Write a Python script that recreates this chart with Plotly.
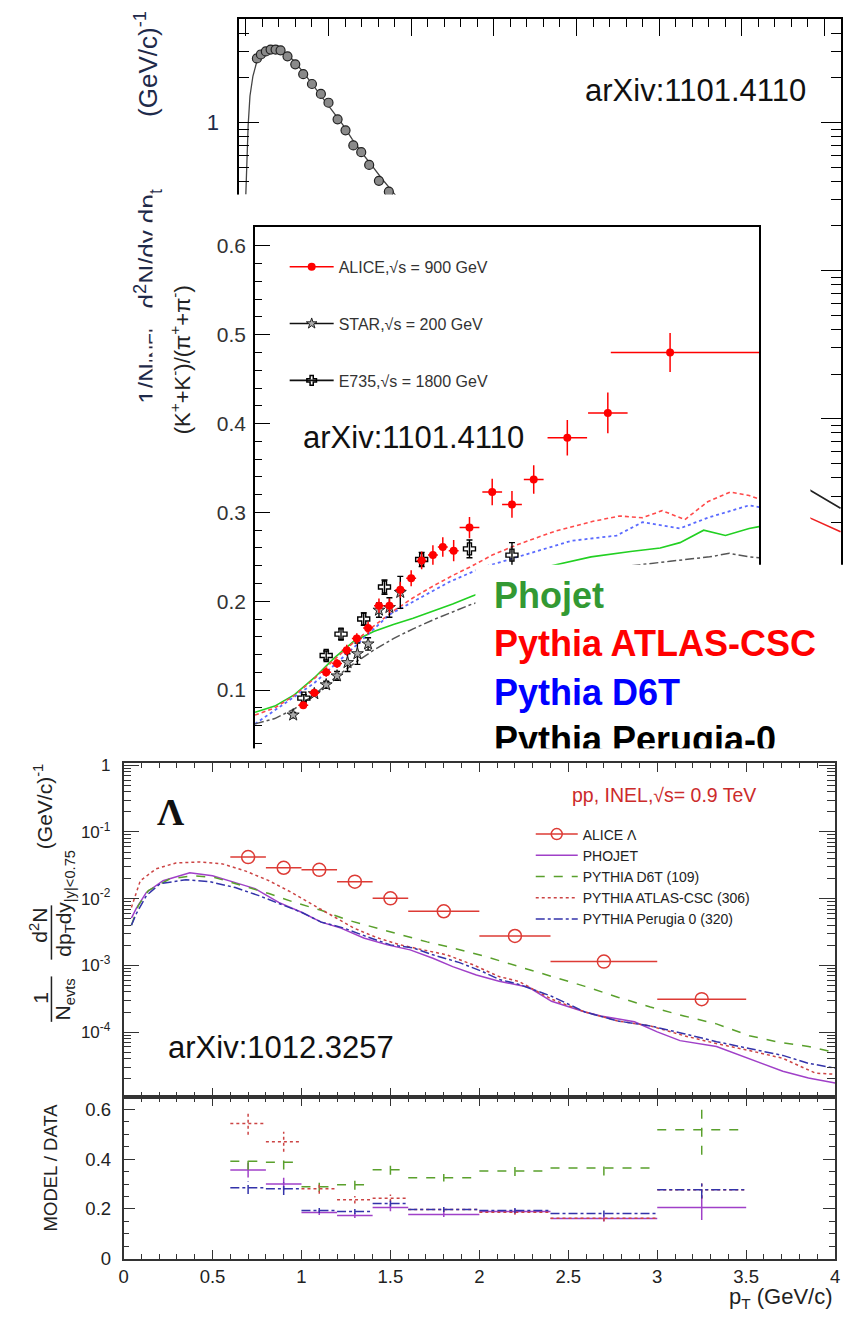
import plotly.graph_objects as go

W, H = 851, 1328
SANS = "Liberation Sans, Arial, Helvetica, sans-serif"
SERIF = "Liberation Serif, DejaVu Serif, serif"

# ---------------- Top (background) panel: spectrum, arXiv:1101.4110 ----------------
top_fit_pt = [0.0, 0.014, 0.025, 0.043, 0.067, 0.097, 0.139, 0.18, 0.228, 0.287, 0.347, 0.406,
              0.465, 0.525, 0.585, 0.644, 0.704, 0.764, 0.823, 0.883, 0.94]
top_fit_yield = [0.326, 0.955, 1.51, 2.06, 2.59, 2.93, 3.11, 3.16, 3.02, 2.63, 2.19, 1.79,
                 1.47, 1.18, 0.97, 0.77, 0.62, 0.51, 0.417, 0.347, 0.288]
top_data_pt = [0.067, 0.091, 0.121, 0.15, 0.18, 0.21, 0.252, 0.299, 0.347, 0.40, 0.454, 0.50,
               0.555, 0.603, 0.65, 0.698, 0.746, 0.805, 0.865]
top_data_yield = [2.71, 2.88, 3.02, 3.11, 3.11, 3.07, 2.80, 2.47, 2.12, 1.82, 1.56, 1.36,
                  1.05, 0.885, 0.70, 0.63, 0.517, 0.404, 0.341]
top_other_pt = [3.30, 3.418, 3.597]
top_other_black = [0.0040, 0.00326, 0.00248]
top_other_red = [0.0025, 0.00212, 0.00172]

# ---------------- Middle panel: (K+ + K-)/(pi+ + pi-) ----------------
alice_pt = [0.244, 0.30, 0.36, 0.415, 0.464, 0.515, 0.572, 0.627, 0.68, 0.735, 0.79, 0.843,
            0.90, 0.95, 1.005, 1.085, 1.20, 1.30, 1.41, 1.58, 1.785, 2.10]
alice_ratio = [0.083, 0.097, 0.12, 0.13, 0.145, 0.158, 0.170, 0.195, 0.195, 0.213, 0.226, 0.246,
               0.252, 0.261, 0.257, 0.283, 0.323, 0.309, 0.337, 0.384, 0.412, 0.48]
alice_err = [0.004, 0.004, 0.005, 0.005, 0.006, 0.006, 0.007, 0.008, 0.008, 0.009, 0.009, 0.010,
             0.011, 0.011, 0.012, 0.012, 0.015, 0.015, 0.016, 0.02, 0.023, 0.022]
alice_xlo = [0.025] * 15 + [0.05, 0.05, 0.05, 0.05, 0.1, 0.1, 0.3]
alice_xhi = [0.025] * 15 + [0.05, 0.05, 0.05, 0.05, 0.1, 0.1, 0.45]

star_pt = [0.193, 0.30, 0.36, 0.415, 0.468, 0.518, 0.572, 0.627, 0.68, 0.735]
star_ratio = [0.072, 0.096, 0.106, 0.116, 0.131, 0.141, 0.152, 0.19, 0.193, 0.21]
star_err = [0.003, 0.003, 0.004, 0.005, 0.01, 0.012, 0.007, 0.008, 0.011, 0.018]

e735_pt = [0.247, 0.36, 0.435, 0.55, 0.655, 0.843, 1.085, 1.30]
e735_ratio = [0.091, 0.139, 0.163, 0.18, 0.216, 0.247, 0.259, 0.252]
e735_err = [0.004, 0.005, 0.006, 0.007, 0.008, 0.008, 0.01, 0.014]

atlas_pt = [0.0, 0.1, 0.2, 0.3, 0.4, 0.5, 0.6, 0.7, 0.8, 0.9, 1.0, 1.1, 1.2, 1.33, 1.52, 1.71,
            1.845, 1.96, 2.06, 2.175, 2.29, 2.405, 2.5, 2.55]
atlas_ratio = [0.072, 0.080, 0.094, 0.113, 0.134, 0.154, 0.172, 0.189, 0.204, 0.217, 0.229, 0.24,
               0.252, 0.264, 0.279, 0.29, 0.296, 0.294, 0.302, 0.292, 0.312, 0.323, 0.319, 0.315]
d6t_pt = [0.0, 0.15, 0.3, 0.5, 0.68, 0.82, 0.985, 1.15, 1.33, 1.6, 1.83, 1.96, 2.15, 2.29, 2.5, 2.55]
d6t_ratio = [0.062, 0.085, 0.108, 0.148, 0.185, 0.202, 0.222, 0.238, 0.25, 0.268, 0.274, 0.289,
             0.282, 0.294, 0.308, 0.306]
phojet_k_pt = [0.0, 0.1, 0.2, 0.3, 0.4, 0.5, 0.6, 0.7, 0.8, 0.9, 1.0, 1.1, 1.2, 1.3, 1.4, 1.5,
               1.7, 1.9, 2.05, 2.15, 2.27, 2.38, 2.5, 2.55]
phojet_k_ratio = [0.075, 0.082, 0.095, 0.114, 0.136, 0.155, 0.166, 0.174, 0.181, 0.189, 0.197,
                  0.206, 0.214, 0.223, 0.232, 0.24, 0.25, 0.256, 0.26, 0.266, 0.28, 0.274, 0.282, 0.284]
perugia_k_pt = [0.0, 0.1, 0.2, 0.3, 0.4, 0.5, 0.6, 0.7, 0.8, 0.9, 1.0, 1.1, 1.3, 1.5, 1.7, 1.9,
                2.1, 2.3, 2.4, 2.5, 2.55]
perugia_k_ratio = [0.062, 0.068, 0.079, 0.095, 0.113, 0.13, 0.145, 0.158, 0.169, 0.179, 0.188,
                   0.197, 0.21, 0.222, 0.232, 0.24, 0.245, 0.25, 0.254, 0.25, 0.249]

model_labels = ["Phojet", "Pythia ATLAS-CSC", "Pythia D6T", "Pythia Perugia-0"]

# ---------------- Bottom panel: Lambda spectrum, arXiv:1012.3257 ----------------
lam_pt = [0.7, 0.9, 1.1, 1.3, 1.5, 1.8, 2.2, 2.7, 3.25]
lam_yield = [0.042, 0.029, 0.027, 0.018, 0.0101, 0.00647, 0.00276, 0.00114, 0.000312]
lam_halfbin = [0.1, 0.1, 0.1, 0.1, 0.1, 0.2, 0.2, 0.3, 0.25]

phojet_pt = [0.044, 0.072, 0.128, 0.222, 0.372, 0.50, 0.628, 0.739, 0.872, 1.0, 1.111, 1.222,
             1.35, 1.483, 1.611, 1.739, 1.85, 1.983, 2.111, 2.206, 2.278, 2.406, 2.594, 2.683,
             2.872, 3.0, 3.128, 3.333, 3.517, 3.706, 3.85, 4.0]
phojet_yield = [0.0051, 0.0072, 0.0124, 0.0186, 0.0244, 0.0220, 0.0174, 0.01416, 0.00879, 0.00625,
                0.00445, 0.00362, 0.00258, 0.00203, 0.00171, 0.00128, 0.00096, 0.00072, 0.00058,
                0.00052, 0.00047, 0.00029, 0.0002, 0.000175, 0.000143, 0.000101, 7.46e-5, 6.08e-5,
                4.05e-5, 2.6e-5, 2.05e-5, 1.73e-5]
d6t_l_pt = [0.044, 0.083, 0.139, 0.261, 0.389, 0.517, 0.667, 0.817, 0.961, 1.111, 1.261, 1.406,
            1.556, 1.706, 1.85, 2.039, 2.222, 2.406, 2.594, 2.778, 2.961, 3.15, 3.333, 3.517,
            3.667, 3.85, 4.0]
d6t_l_yield = [0.0040, 0.0079, 0.0132, 0.0199, 0.0220, 0.0206, 0.01567, 0.01194, 0.00879, 0.00669,
               0.00476, 0.00375, 0.00286, 0.00225, 0.00183, 0.00135, 0.00096, 0.00068, 0.000485,
               0.000334, 0.000238, 0.000175, 0.000133, 8.85e-5, 7.2e-5, 6.08e-5, 4.96e-5]
atlas_l_pt = [0.044, 0.094, 0.183, 0.294, 0.428, 0.556, 0.683, 0.817, 0.944, 1.072, 1.183, 1.294,
              1.428, 1.556, 1.683, 1.817, 1.961, 2.111, 2.222, 2.406, 2.594, 2.778, 2.961, 3.15,
              3.333, 3.517, 3.706, 3.889, 4.0]
atlas_l_yield = [0.0074, 0.0186, 0.028, 0.0343, 0.0355, 0.0332, 0.0261, 0.0186, 0.0124, 0.00793,
                 0.00527, 0.00362, 0.00258, 0.00203, 0.00171, 0.00144, 0.00103, 0.00068, 0.000575,
                 0.000312, 0.0002, 0.000147, 0.000124, 8.85e-5, 6.73e-5, 5.31e-5, 4.05e-5,
                 2.43e-5, 2.34e-5]
perugia_l_pt = [0.044, 0.072, 0.128, 0.206, 0.35, 0.483, 0.628, 0.761, 0.872, 1.0, 1.111, 1.239,
                1.372, 1.5, 1.628, 1.739, 1.889, 2.017, 2.111, 2.222, 2.406, 2.594, 2.778, 2.961,
                3.15, 3.333, 3.517, 3.706, 3.85, 4.0]
perugia_l_yield = [0.0040, 0.0060, 0.0111, 0.0168, 0.0192, 0.0180, 0.01465, 0.0111, 0.00849,
                   0.00625, 0.00445, 0.00362, 0.00267, 0.00203, 0.00183, 0.00144, 0.0011, 0.00081,
                   0.000617, 0.00052, 0.000345, 0.0002, 0.000147, 0.000124, 9.47e-5, 7.2e-5,
                   5.68e-5, 4.48e-5, 3.41e-5, 2.88e-5]

ratio_lo = [0.6, 0.8, 1.0, 1.2, 1.4, 1.6, 2.0, 2.4, 3.0]
ratio_hi = [0.8, 1.0, 1.2, 1.4, 1.6, 2.0, 2.4, 3.0, 3.5]
ratio_phojet = [0.356, 0.30, 0.186, 0.174, 0.206, 0.178, 0.19, 0.162, 0.206]
ratio_phojet_err = [0.03, 0.025, 0.01, 0.01, 0.015, 0.01, 0.01, 0.012, 0.05]
ratio_d6t = [0.392, 0.388, 0.289, 0.297, 0.357, 0.325, 0.352, 0.364, 0.518]
ratio_d6t_err = [0.035, 0.03, 0.02, 0.02, 0.02, 0.015, 0.02, 0.03, 0.1]
ratio_atlas = [0.543, 0.47, 0.281, 0.237, 0.243, 0.198, 0.187, 0.163, 0.277]
ratio_atlas_err = [0.045, 0.04, 0.02, 0.015, 0.015, 0.01, 0.01, 0.012, 0.035]
ratio_perugia = [0.285, 0.281, 0.194, 0.190, 0.222, 0.198, 0.194, 0.182, 0.277]
ratio_perugia_err = [0.025, 0.025, 0.01, 0.01, 0.012, 0.01, 0.01, 0.012, 0.035]


# ---------------- helpers (layout positions in pixels -> paper) ----------------
def dx(a, b):
    return [a / W, b / W]


def dy(top, bottom):
    return [1 - bottom / H, 1 - top / H]


def pxx(x):
    return x / W


def pyy(y):
    return 1 - y / H


def log_minor(lo, hi):
    return [m * 10 ** e for e in range(lo, hi) for m in range(2, 10)]


def steps(lo, hi, val, err):
    xs, ys = [], []
    for a, b, v, e in zip(lo, hi, val, err):
        c = 0.5 * (a + b)
        xs += [a, b, None, c, c, None]
        ys += [v, v, None, v - e, v + e, None]
    return xs, ys


fig = go.Figure()

# ---- top panel traces (subplot xy)
fig.add_trace(go.Scatter(x=top_fit_pt, y=top_fit_yield, mode="lines", xaxis="x", yaxis="y",
                         line=dict(color="#444", width=1.3), showlegend=False))
fig.add_trace(go.Scatter(x=top_data_pt, y=top_data_yield, mode="markers", xaxis="x", yaxis="y",
                         marker=dict(symbol="circle", size=9, color="#8a8a8a",
                                     line=dict(color="#222", width=1.2)), showlegend=False))
fig.add_trace(go.Scatter(x=top_other_pt, y=top_other_black, mode="lines", xaxis="x", yaxis="y",
                         line=dict(color="#222", width=1.6), showlegend=False))
fig.add_trace(go.Scatter(x=top_other_pt, y=top_other_red, mode="lines", xaxis="x", yaxis="y",
                         line=dict(color="#ee2020", width=1.6), showlegend=False))

# ---- white cover of the middle picture (subplot x2y2, nothing drawn in it)
fig.add_trace(go.Scatter(x=[None], y=[None], mode="lines", xaxis="x2", yaxis="y2",
                         showlegend=False, hoverinfo="skip"))

# ---- middle panel traces (subplot x3y3)
mid = dict(xaxis="x3", yaxis="y3", showlegend=False)
fig.add_trace(go.Scatter(x=phojet_k_pt, y=phojet_k_ratio, mode="lines",
                         line=dict(color="#22d022", width=1.6), **mid))
fig.add_trace(go.Scatter(x=atlas_pt, y=atlas_ratio, mode="lines",
                         line=dict(color="#ff4a4a", width=1.6, dash="4px,3px"), **mid))
fig.add_trace(go.Scatter(x=d6t_pt, y=d6t_ratio, mode="lines",
                         line=dict(color="#5a6aff", width=1.8, dash="dot"), **mid))
fig.add_trace(go.Scatter(x=perugia_k_pt, y=perugia_k_ratio, mode="lines",
                         line=dict(color="#555", width=1.5, dash="dashdot"), **mid))
fig.add_trace(go.Scatter(x=star_pt, y=star_ratio, mode="markers",
                         marker=dict(symbol="star", size=9, color="#aaa", line=dict(color="#222", width=1)),
                         error_y=dict(type="data", array=star_err, color="black", thickness=1.4, width=3),
                         **mid))
fig.add_trace(go.Scatter(x=e735_pt, y=e735_ratio, mode="markers",
                         marker=dict(symbol="cross-open", size=10, color="black", line=dict(width=1.4)),
                         error_y=dict(type="data", array=e735_err, color="black", thickness=1.4, width=3),
                         **mid))
fig.add_trace(go.Scatter(x=alice_pt, y=alice_ratio, mode="markers",
                         marker=dict(symbol="circle", size=8, color="#ff0000"),
                         error_y=dict(type="data", array=alice_err, color="#ff0000", thickness=1.5, width=0),
                         error_x=dict(type="data", array=alice_xhi, arrayminus=alice_xlo, color="#ff0000",
                                      thickness=1.5, width=0),
                         **mid))
# legend entries for the middle panel (ROOT style line + marker)
leg_mid = [("ALICE,√s = 900 GeV", "#ff0000", dict(symbol="circle", size=8, color="#ff0000")),
           ("STAR,√s = 200 GeV", "#111", dict(symbol="star", size=8, color="#aaa", line=dict(color="#222", width=1))),
           ("E735,√s = 1800 GeV", "#111", dict(symbol="cross-open", size=8, color="black", line=dict(width=1.5)))]
for i, (name, col, mk) in enumerate(leg_mid):
    fig.add_trace(go.Scatter(x=[None], y=[None], mode="lines+markers", name=name, xaxis="x3", yaxis="y3",
                             line=dict(color=col, width=1.6), marker=mk, legend="legend",
                             legendgroup="g%d" % i, showlegend=True))

# ---- text box (subplot x4y4)
label_x = [0.05, 0.05, 0.05, 0.05]
label_y = [0.813, 0.556, 0.294, 0.037]
fig.add_trace(go.Scatter(x=label_x, y=label_y, mode="text", text=model_labels,
                         textposition="middle right", xaxis="x4", yaxis="y4", showlegend=False,
                         textfont=dict(family=SANS, size=36, weight="bold",
                                       color=["#339933", "#ff0000", "#0000ff", "#000000"])))

# ---- white cover of the bottom picture (subplot x5y5, nothing drawn in it)
fig.add_trace(go.Scatter(x=[None], y=[None], mode="lines", xaxis="x5", yaxis="y5",
                         showlegend=False, hoverinfo="skip"))

# ---- bottom main panel (subplot x6y6)
bot = dict(xaxis="x6", yaxis="y6")
fig.add_trace(go.Scatter(x=[None], y=[None], mode="lines+markers", name="ALICE Λ", **bot,
                         line=dict(color="#dd3b35", width=1.5),
                         marker=dict(symbol="circle-open", size=11, color="#dd3b35", line=dict(width=1.5)),
                         legend="legend2"))
fig.add_trace(go.Scatter(x=phojet_pt, y=phojet_yield, mode="lines", name="PHOJET", **bot,
                         line=dict(color="#a040c8", width=1.5), legend="legend2"))
fig.add_trace(go.Scatter(x=d6t_l_pt, y=d6t_l_yield, mode="lines", name="PYTHIA D6T (109)", **bot,
                         line=dict(color="#5aa02c", width=1.5, dash="dash"), legend="legend2"))
fig.add_trace(go.Scatter(x=atlas_l_pt, y=atlas_l_yield, mode="lines", name="PYTHIA ATLAS-CSC (306)", **bot,
                         line=dict(color="#cc4444", width=1.5, dash="dot"), legend="legend2"))
fig.add_trace(go.Scatter(x=perugia_l_pt, y=perugia_l_yield, mode="lines", name="PYTHIA Perugia 0 (320)", **bot,
                         line=dict(color="#3333aa", width=1.5, dash="dashdot"), legend="legend2"))
fig.add_trace(go.Scatter(x=lam_pt, y=lam_yield, mode="markers", **bot, showlegend=False,
                         marker=dict(symbol="circle-open", size=13, color="#dd3b35", line=dict(width=1.5)),
                         error_x=dict(type="data", array=lam_halfbin, color="#dd3b35", thickness=1.5, width=0)))

# ---- ratio panel (subplot x7y7)
for vals, errs, col, dash in [(ratio_phojet, ratio_phojet_err, "#a040c8", "solid"),
                              (ratio_d6t, ratio_d6t_err, "#5aa02c", "dash"),
                              (ratio_atlas, ratio_atlas_err, "#cc4444", "dot"),
                              (ratio_perugia, ratio_perugia_err, "#3333aa", "dashdot")]:
    sx, sy = steps(ratio_lo, ratio_hi, vals, errs)
    fig.add_trace(go.Scatter(x=sx, y=sy, mode="lines", xaxis="x7", yaxis="y7", showlegend=False,
                             line=dict(color=col, width=1.5, dash=dash)))

# ---------------- axes ----------------
hid = dict(visible=False, range=[0, 1], showgrid=False, zeroline=False, fixedrange=True)
common = dict(showgrid=False, zeroline=False, showline=True)

layout_axes = dict(
    xaxis=dict(domain=dx(237, 846), range=[-0.04, 3.6], anchor="y", linecolor="black", linewidth=1.5,
               mirror="ticks", ticks="inside", ticklen=17, tickwidth=1.3, tickcolor="black",
               dtick=0.5, tick0=0, showticklabels=False,
               minor=dict(dtick=0.1, tick0=0, ticks="inside", ticklen=8, tickcolor="black", tickwidth=1.2),
               **common),
    yaxis=dict(domain=dy(12, 760), type="log", range=[-4.287, 0.7], anchor="x", linecolor="black",
               linewidth=1.5, mirror="ticks", ticks="inside", ticklen=20, tickwidth=1.3, tickcolor="black",
               tickmode="array", tickvals=[1e-4, 1e-3, 1e-2, 1e-1, 1],
               ticktext=["10<sup>-4</sup>", "10<sup>-3</sup>", "10<sup>-2</sup>", "10<sup>-1</sup>", "1"],
               tickfont=dict(size=22, color="#1e2a4a"), ticklabelstandoff=14,
               minor=dict(tickmode="array", tickvals=log_minor(-5, 1), ticks="inside", ticklen=10,
                          tickcolor="black", tickwidth=1.2),
               **common),
    xaxis2=dict(domain=dx(150, 815), anchor="y2", **hid),
    yaxis2=dict(domain=dy(190, 758), anchor="x2", **hid),
    xaxis3=dict(domain=dx(253, 763), range=[0, 2.55], anchor="y3", linecolor="black", linewidth=1.5,
                mirror=True, ticks="", showticklabels=False, **common),
    yaxis3=dict(domain=dy(223, 781), range=[0.0011, 0.6211], anchor="x3", linecolor="black", linewidth=1.5,
                mirror=True, ticks="inside", ticklen=15, tickwidth=1.3, tickcolor="black",
                tickmode="array", tickvals=[0.1, 0.2, 0.3, 0.4, 0.5, 0.6],
                ticktext=["0.1", "0.2", "0.3", "0.4", "0.5", "0.6"],
                tickfont=dict(size=21, color="#333"), ticklabelstandoff=3,
                minor=dict(dtick=0.02, tick0=0, ticks="inside", ticklen=7, tickcolor="black", tickwidth=1.2),
                **common),
    xaxis4=dict(domain=dx(476, 851), anchor="y4", **hid),
    yaxis4=dict(domain=dy(565, 753), anchor="x4", **hid),
    xaxis5=dict(domain=dx(0, 851), anchor="y5", **hid),
    yaxis5=dict(domain=dy(751, 1328), anchor="x5", **hid),
    xaxis6=dict(domain=dx(120, 840), range=[0, 4], anchor="y6", linecolor="#333", linewidth=1.6,
                mirror="ticks", ticks="inside", ticklen=9, tickwidth=1.3, tickcolor="#333",
                dtick=0.5, tick0=0, showticklabels=False,
                minor=dict(dtick=0.1, tick0=0, ticks="inside", ticklen=5, tickcolor="#333", tickwidth=1.2),
                **common),
    yaxis6=dict(domain=dy(766, 1104), type="log", range=[-4.97, 0.03], anchor="x6", linecolor="#333",
                linewidth=1.6, mirror="ticks", ticks="inside", ticklen=16, tickwidth=1.3, tickcolor="#333",
                tickmode="array", tickvals=[1e-4, 1e-3, 1e-2, 1e-1, 1],
                ticktext=["10<sup>-4</sup>", "10<sup>-3</sup>", "10<sup>-2</sup>", "10<sup>-1</sup>", "1"],
                tickfont=dict(size=17, color="#222"), ticklabelstandoff=8,
                minor=dict(tickmode="array", tickvals=log_minor(-5, 1), ticks="inside", ticklen=8,
                           tickcolor="#333", tickwidth=1.2),
                **common),
    xaxis7=dict(domain=dx(120, 840), range=[0, 4], anchor="y7", linecolor="#333", linewidth=1.6,
                mirror="ticks", ticks="inside", ticklen=9, tickwidth=1.3, tickcolor="#333",
                tickmode="array", tickvals=[0, 0.5, 1, 1.5, 2, 2.5, 3, 3.5, 4],
                ticktext=["0", "0.5", "1", "1.5", "2", "2.5", "3", "3.5", "4"],
                tickfont=dict(size=18.5, color="#222"),
                minor=dict(dtick=0.1, tick0=0, ticks="inside", ticklen=5, tickcolor="#333", tickwidth=1.2),
                **common),
    yaxis7=dict(domain=dy(1104, 1268), range=[0, 0.65], anchor="x7", linecolor="#333", linewidth=1.6,
                mirror="ticks", ticks="inside", ticklen=12, tickwidth=1.3, tickcolor="#333",
                tickmode="array", tickvals=[0, 0.2, 0.4, 0.6], ticktext=["0", "0.2", "0.4", "0.6"],
                tickfont=dict(size=18.5, color="#222"), ticklabelstandoff=7,
                minor=dict(dtick=0.05, tick0=0, ticks="inside", ticklen=6, tickcolor="#333", tickwidth=1.2),
                **common),
)


# ---------------- annotations ----------------
def ann(text, x, y, size, color="#111", xanchor="center", yanchor="middle", angle=0, family=SANS, **kw):
    return dict(text=text, x=pxx(x), y=pyy(y), xref="paper", yref="paper", showarrow=False,
                xanchor=xanchor, yanchor=yanchor, textangle=angle,
                font=dict(size=size, color=color, family=family), **kw)


nb = "\u00a0"
annotations = [
    # top panel y title (partly hidden behind the middle picture)
    ann("1/N<sub>INEL</sub>" + nb * 2 + "d<sup>2</sup>N/dy" + nb + "dp<sub>t</sub>" + nb * 10
        + "(GeV/c)<sup>-1</sup>", 145, 2, 26, color="#1e2a4a", yanchor="top", angle=-90),
    # white part of the middle picture covering that title
    dict(text=nb, x=pxx(175), y=pyy(320), xref="paper", yref="paper", showarrow=False,
         xanchor="center", yanchor="middle", width=50, height=260, bgcolor="white", borderpad=0),
    ann("(K<sup>+</sup>+K<sup>-</sup>)/(π<sup>+</sup>+π<sup>-</sup>)", 178, 357, 22, color="#222", angle=-90),
    ann("arXiv:1101.4110", 585, 85, 31, color="#111", xanchor="left"),
    ann("arXiv:1101.4110", 300, 436, 31, color="#111", xanchor="left"),
    ann("arXiv:1012.3257", 163, 1054, 31, color="#111", xanchor="left"),
    ann("<b>Λ</b>", 168, 815, 38, color="#111", family=SERIF),
    ann("pp, INEL,√s= 0.9 TeV", 572, 798, 19.5, color="#cc2b2b", xanchor="left"),
    # bottom y title
    ann("1", 36, 1004, 21, color="#222", angle=-90),
    ann("N<sub>evts</sub>", 60, 1005, 21, color="#222", angle=-90),
    ann("d<sup>2</sup>N", 34, 930, 21, color="#222", angle=-90),
    ann("dp<sub>T</sub>dy<sub>|y|&lt;0.75</sub>", 61, 908, 21, color="#222", angle=-90),
    ann("(GeV/c)<sup>-1</sup>", 38, 810, 21, color="#222", angle=-90),
    ann("MODEL / DATA", 46, 1175, 18.5, color="#222", angle=-90),
    ann("p<sub>T</sub> (GeV/c)", 840, 1308, 22, color="#222", xanchor="right"),
]

shapes = [
    dict(type="line", xref="paper", yref="paper", x0=pxx(47), x1=pxx(47), y0=pyy(982), y1=pyy(1028),
         line=dict(color="#222", width=1.5)),
    dict(type="line", xref="paper", yref="paper", x0=pxx(47), x1=pxx(47), y0=pyy(910), y1=pyy(965),
         line=dict(color="#222", width=1.5)),
]

fig.update_layout(
    width=W, height=H, margin=dict(l=0, r=0, t=0, b=0),
    paper_bgcolor="white", plot_bgcolor="white",
    font=dict(family=SANS, color="#222"),
    annotations=annotations, shapes=shapes,
    legend=dict(x=pxx(283), y=pyy(246), xanchor="left", yanchor="top", bgcolor="rgba(0,0,0,0)",
                font=dict(size=16, color="#333", family=SANS), tracegroupgap=33, traceorder="grouped",
                itemwidth=44),
    legend2=dict(x=pxx(532), y=pyy(822), xanchor="left", yanchor="top", bgcolor="rgba(0,0,0,0)",
                 font=dict(size=14, color="#222", family=SANS), traceorder="normal", itemwidth=42),
    **layout_axes,
)

fig.write_html("out.html", config={"displayModeBar": False},
               post_script="document.body.style.margin='0px';")
